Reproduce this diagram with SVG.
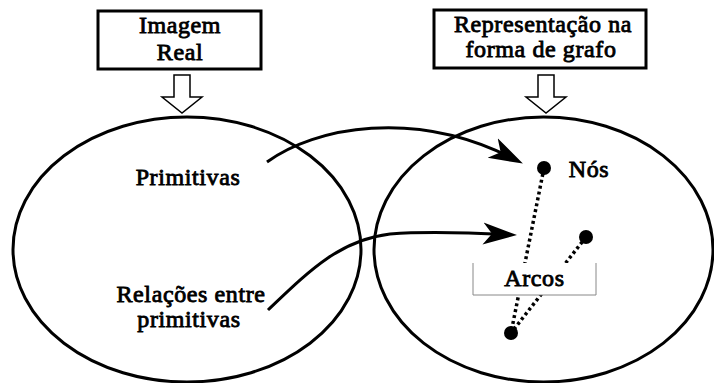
<svg xmlns="http://www.w3.org/2000/svg" width="714" height="383" viewBox="0 0 714 383">
  <style>
    /* heavy serif labels: regular face thickened with a thin outline */
    text { font-family: "Liberation Serif", "Times New Roman", serif; font-weight: 400; font-size: 24px; fill: #000; stroke: #000; stroke-width: 0.85; stroke-linejoin: miter; letter-spacing: 0.6px; text-anchor: middle; }
    .box { fill: #fff; stroke: #000; stroke-width: 3; }
    .hollow { fill: #fff; stroke: #000; stroke-width: 1.5; stroke-linejoin: miter; }
    .set { fill: none; stroke: #000; stroke-width: 3; }
    .link { fill: none; stroke: #000; stroke-width: 3; }
    .arc { stroke: #000; stroke-width: 3.5; stroke-dasharray: 3 3; fill: none; }
    .dot { fill: #000; }
  </style>
  <defs>
    <marker id="barb" viewBox="0 -12 36 24" refX="24" refY="0" markerWidth="36" markerHeight="24" markerUnits="userSpaceOnUse" orient="auto">
      <path d="M0,-11 L34,0 L0,11 L9,0 Z" fill="#000"/>
    </marker>
  </defs>

  <!-- source side -->
  <g id="imagem-real">
    <rect class="box" x="98" y="11" width="163" height="58"/>
    <text x="180" y="33">Imagem</text>
    <text x="180" y="60">Real</text>
  </g>
  <g id="seta-esquerda">
    <path class="hollow" d="M174,75 H190 V97 H202 L182,113 L162,97 H174 Z"/>
  </g>
  <g id="conjunto-imagem">
    <ellipse class="set" cx="187" cy="249.5" rx="174" ry="132.5"/>
    <text x="188" y="185">Primitivas</text>
    <text x="191" y="302">Relações entre</text>
    <text x="189" y="327">primitivas</text>
  </g>

  <!-- graph side -->
  <g id="representacao-grafo">
    <rect class="box" x="434" y="10" width="212" height="58"/>
    <text x="543" y="32">Representação na</text>
    <text x="541" y="57">forma de grafo</text>
  </g>
  <g id="seta-direita">
    <path class="hollow" d="M538,75 H554 V97 H566 L546,113 L526,97 H538 Z"/>
  </g>
  <g id="conjunto-grafo">
    <ellipse class="set" cx="543.5" cy="249.5" rx="169.5" ry="132.5"/>
  </g>

  <!-- graph edges, partly hidden behind the label panel -->
  <g id="arcos-linhas">
    <line class="arc" x1="544" y1="168" x2="511" y2="333"/>
    <line class="arc" x1="586" y1="237" x2="511" y2="333"/>
  </g>
  <g id="arcos">
    <rect x="473" y="263" width="123" height="32" fill="#fff"/>
    <path d="M473,263 V295 H596 V263" fill="none" stroke="#888" stroke-width="1"/>
    <text x="534.5" y="286">Arcos</text>
  </g>
  <g id="nos">
    <circle class="dot" cx="544" cy="168" r="7"/>
    <circle class="dot" cx="586" cy="237" r="7"/>
    <circle class="dot" cx="511" cy="333" r="7"/>
    <text x="589" y="177">Nós</text>
  </g>

  <!-- mapping connectors -->
  <g id="conectores">
    <path class="link" d="M267,162 C315,127 415,108 514,159" marker-end="url(#barb)"/>
    <path class="link" d="M268,310 C310,270 340,240 390,234 C430,231 475,233 507,234.6" marker-end="url(#barb)"/>
  </g>
</svg>
